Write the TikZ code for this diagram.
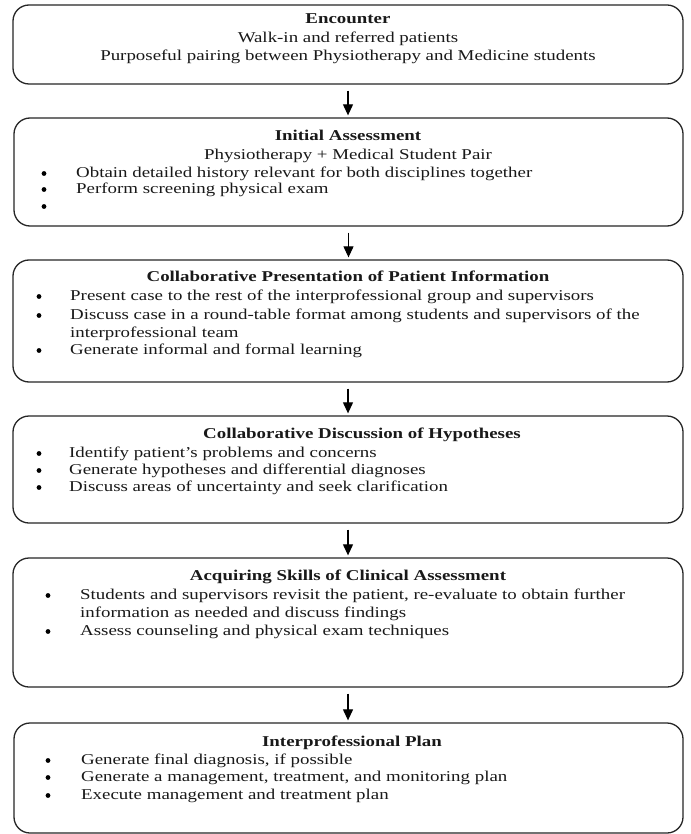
\documentclass[tikz,border=0pt]{standalone}
\usepackage{fontspec}
\setmainfont{Liberation Serif}[FakeStretch=1.26]
\usetikzlibrary{arrows.meta}
\begin{document}
\begin{tikzpicture}[x=1pt,y=-1pt,
  box/.style={draw=black!85, line width=1.3pt, rounded corners=16pt, inner sep=0pt},
  ctxt/.style={anchor=mid, inner sep=0pt, text=black!90},
  ttl/.style={ctxt, font=\fontsize{15}{18}\selectfont\bfseries},
  lin/.style={ctxt, font=\fontsize{15}{18}\selectfont},
  txt/.style={anchor=mid west, inner sep=0pt, text=black!90, font=\fontsize{15}{18}\selectfont},
  bul/.style={circle, fill=black, inner sep=0pt, minimum size=4.8pt, yshift=1.5pt},
  arr/.style={-{Triangle[width=10pt,length=11pt]}, line width=1.1pt, draw=black}
]
\useasboundingbox (0,0) rectangle (690,834);
\fill[white] (0,0) rectangle (690,834);

% boxes
\node[box, minimum width=670pt, minimum height=79pt]  (b1) at (348,44.5) {};
\node[box, minimum width=669pt, minimum height=108pt] (b2) at (348.5,172) {};
\node[box, minimum width=670pt, minimum height=122pt] (b3) at (348,321) {};
\node[box, minimum width=670pt, minimum height=107pt] (b4) at (348,469.5) {};
\node[box, minimum width=670pt, minimum height=129pt] (b5) at (348,622.5) {};
\node[box, minimum width=669pt, minimum height=110pt] (b6) at (348.5,778) {};

% arrows
\draw[arr, shorten <=6pt, shorten >=2pt] (b1.south) -- (b1.south |- b2.north);
\draw[arr, shorten <=6pt, shorten >=2pt] (b2.south) -- (b2.south |- b3.north);
\draw[arr, shorten <=6pt, shorten >=2pt] (b3.south) -- (b3.south |- b4.north);
\draw[arr, shorten <=6pt, shorten >=2pt] (b4.south) -- (b4.south |- b5.north);
\draw[arr, shorten <=6pt, shorten >=2pt] (b5.south) -- (b5.south |- b6.north);

% box 1
\node[ttl] (t1) at (348,21) {Encounter};
\node[lin] (t1a) at (348,40) {Walk-in and referred patients};
\node[lin] (t1b) at (348,58) {Purposeful pairing between Physiotherapy and Medicine students};

% box 2
\node[ttl] (t2) at (348,138) {Initial Assessment};
\node[lin] (t2a) at (348,157) {Physiotherapy + Medical Student Pair};
\node[bul] (p2a) at (44,175) {};
\node[txt] (t2b) at (76,175) {Obtain detailed history relevant for both disciplines together};
\node[bul] (p2b) at (44,191) {};
\node[txt] (t2c) at (76,191) {Perform screening physical exam};
\node[bul] (p2c) at (44,208) {};

% box 3
\node[ttl] (t3) at (348,279) {Collaborative Presentation of Patient Information};
\node[bul] (p3a) at (39,298) {};
\node[txt] (t3a) at (70,298) {Present case to the rest of the interprofessional group and supervisors};
\node[bul] (p3b) at (39,317) {};
\node[txt] (t3b) at (70,317) {Discuss case in a round-table format among students and supervisors of the};
\node[txt] (t3c) at (70,335) {interprofessional team};
\node[bul] (p3c) at (39,352) {};
\node[txt] (t3d) at (70,352) {Generate informal and formal learning};

% box 4
\node[ttl] (t4) at (362,436) {Collaborative Discussion of Hypotheses};
\node[bul] (p4a) at (39,455) {};
\node[txt] (t4a) at (69,455) {Identify patient’s problems and concerns};
\node[bul] (p4b) at (39,472) {};
\node[txt] (t4b) at (69,472) {Generate hypotheses and differential diagnoses};
\node[bul] (p4c) at (39,489) {};
\node[txt] (t4c) at (69,489) {Discuss areas of uncertainty and seek clarification};

% box 5
\node[ttl] (t5) at (348,578) {Acquiring Skills of Clinical Assessment};
\node[bul] (p5a) at (48,597) {};
\node[txt] (t5a) at (80,597) {Students and supervisors revisit the patient, re-evaluate to obtain further};
\node[txt] (t5b) at (80,615) {information as needed and discuss findings};
\node[bul] (p5b) at (48,633) {};
\node[txt] (t5c) at (80,633) {Assess counseling and physical exam techniques};

% box 6
\node[ttl] (t6) at (352,744) {Interprofessional Plan};
\node[bul] (p6a) at (48,762) {};
\node[txt] (t6a) at (81,762) {Generate final diagnosis, if possible};
\node[bul] (p6b) at (48,779) {};
\node[txt] (t6b) at (81,779) {Generate a management, treatment, and monitoring plan};
\node[bul] (p6c) at (48,797) {};
\node[txt] (t6c) at (81,797) {Execute management and treatment plan};
\end{tikzpicture}
\end{document}
